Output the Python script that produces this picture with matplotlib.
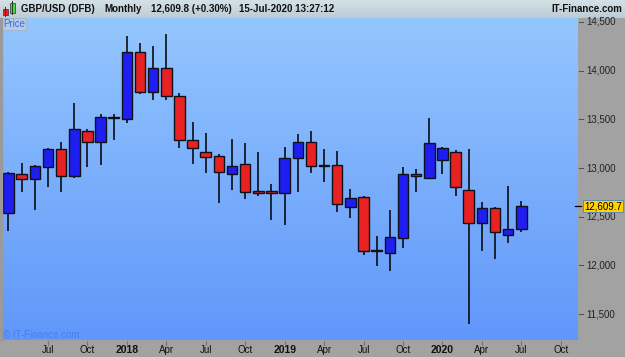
import numpy as np
import matplotlib
matplotlib.use("Agg")
import matplotlib.pyplot as plt
from matplotlib.patches import Rectangle
from matplotlib.transforms import blended_transform_factory

# ---------------- data ----------------
months = ["Apr17", "May17", "Jun17", "Jul17", "Aug17", "Sep17", "Oct17", "Nov17", "Dec17",
          "Jan18", "Feb18", "Mar18", "Apr18", "May18", "Jun18", "Jul18", "Aug18", "Sep18",
          "Oct18", "Nov18", "Dec18", "Jan19", "Feb19", "Mar19", "Apr19", "May19", "Jun19",
          "Jul19", "Aug19", "Sep19", "Oct19", "Nov19", "Dec19", "Jan20", "Feb20", "Mar20",
          "Apr20", "May20", "Jun20", "Jul20"]
opens = [12535, 12939, 12891, 13015, 13196, 12922, 13385, 13271, 13525,
         13501, 14189, 13778, 14024, 13743, 13285, 13165, 13121, 12936,
         13039, 12761, 12761, 12741, 13100, 13265, 13024, 13028, 12603,
         12700, 12148, 12131, 12285, 12936, 12898, 13086, 13165, 12772,
         12433, 12587, 12312, 12377]
highs = [12960, 13049, 13031, 13206, 13268, 13665, 13400, 13555, 13555,
         14356, 14287, 14254, 14377, 13774, 13473, 13357, 13144, 13298,
         13257, 13168, 12836, 13213, 13350, 13381, 13199, 13175, 12785,
         12710, 12305, 12569, 13011, 12987, 13514, 13219, 13185, 13196,
         12648, 12600, 12816, 12665]
lows = [12354, 12757, 12569, 12802, 12757, 12895, 13014, 13031, 13288,
        13460, 13757, 13699, 13699, 13203, 13042, 12952, 12644, 12775,
        12682, 12713, 12467, 12418, 12757, 12952, 12857, 12546, 12490,
        12107, 11997, 11946, 12182, 12757, 12885, 12942, 12713, 11395,
        12151, 12063, 12233, 12346]
closes = [12946, 12891, 13021, 13196, 12922, 13398, 13271, 13521, 13512,
          14189, 13778, 14024, 13743, 13288, 13203, 13117, 12956, 13018,
          12757, 12741, 12741, 13100, 13265, 13024, 13032, 12628, 12689,
          12148, 12156, 12289, 12936, 12915, 13254, 13206, 12809, 12433,
          12587, 12340, 12377, 12609.7]

xtick_pos = [3, 6, 9, 12, 15, 18, 21, 24, 27, 30, 33, 36, 39, 42]
xtick_labels = ["Jul", "Oct", "2018", "Apr", "Jul", "Oct", "2019", "Apr", "Jul", "Oct",
                "2020", "Apr", "Jul", "Oct"]
ytick_vals = [11500, 12000, 12500, 13000, 13500, 14000, 14500]
last_price = 12609.7

# ---------------- figure ----------------
W, H = 625, 357
fig = plt.figure(figsize=(W / 100, H / 100), dpi=100)
fig.patch.set_facecolor("#a2a2a2")
FONT = "Liberation Sans"

def fx(px):
    return px / W

def fy(py):
    return 1 - py / H

# header bar
hax = fig.add_axes([0, fy(18), 1, 18 / H])
hgrad = np.linspace(0, 1, 50)[:, None]
top_c = np.array([212, 224, 230]) / 255
bot_c = np.array([188, 204, 213]) / 255
himg = top_c[None, None, :] * (1 - hgrad[..., None]) + bot_c[None, None, :] * hgrad[..., None]
hax.imshow(np.repeat(himg, 2, axis=1), extent=[0, 1, 0, 1], aspect="auto")
hax.set_xlim(0, 1)
hax.set_ylim(0, 1)
hax.axis("off")

# main plot area
ax = fig.add_axes([fx(2), fy(340), fx(578) - fx(2), (340 - 18) / H])
g = np.linspace(0, 1, 256)[:, None]
ctop = np.array([148, 198, 254]) / 255
cbot = np.array([97, 151, 250]) / 255
img = ctop[None, None, :] * (1 - g[..., None]) + cbot[None, None, :] * g[..., None]
ax.imshow(np.repeat(img, 2, axis=1), extent=[0, 1, 0, 1], transform=ax.transAxes,
          aspect="auto", zorder=0)

x = np.arange(len(months))
o = np.array(opens, float)
c = np.array(closes, float)
hi = np.array(highs, float)
lo = np.array(lows, float)
up = c >= o
colors = np.where(up, "#1e1ef0", "#e82222")
ax.vlines(x, lo, hi, color="black", linewidth=1.1, zorder=2)
ax.bar(x, np.abs(c - o), bottom=np.minimum(o, c), width=0.8, color=colors,
       edgecolor="#101018", linewidth=1.0, zorder=3)

ax.set_xlim(-0.494, 43.31)
ax.set_ylim(11235, 14541)
ax.set_xticks([])
ax.set_yticks([])
for s in ax.spines.values():
    s.set_visible(False)

# left border
fig.patches.append(Rectangle((0, fy(340)), fx(2), (340 - 18) / H, transform=fig.transFigure,
                             color="#9a9a9a", zorder=0))

# Price label
ax.text(fx(3), fy(24), "Price", transform=fig.transFigure, fontsize=7, family=FONT,
        color="#3a6ee0", va="center", ha="left",
        bbox=dict(boxstyle="square,pad=0.15", fc="#b4cbe6", ec="#9fb4cc", lw=0.6))

# watermark
ax.text(fx(3), fy(335), "\u00a9 IT-Finance.com", transform=fig.transFigure, fontsize=7,
        family=FONT, color="#4580ec", va="center", ha="left")

# y axis labels on right panel
ytr = blended_transform_factory(fig.transFigure, ax.transData)
for v in ytick_vals:
    ax.plot([fx(579), fx(583)], [v, v], transform=ytr, color="#555555", lw=0.8,
            clip_on=False)
    ax.text(fx(586), v, f"{v:,}", transform=ytr, fontsize=7, family=FONT,
            color="#222222", va="center", ha="left", clip_on=False)

# last price tag
ax.plot([fx(575), fx(581)], [last_price, last_price], transform=ytr, color="black",
        lw=0.9, clip_on=False)
ax.text(fx(584), last_price, f"{last_price:,.1f}", transform=ytr, fontsize=7, family=FONT,
        color="black", va="center", ha="left", clip_on=False, zorder=5,
        bbox=dict(boxstyle="square,pad=0.12", fc="#ffd200", ec="#5080c0", lw=0.6))

# x axis labels on bottom band
xtr = blended_transform_factory(ax.transData, fig.transFigure)
for p, lab in zip(xtick_pos, xtick_labels):
    ax.plot([p, p], [fy(341), fy(345)], transform=xtr, color="#777777", lw=0.8,
            clip_on=False)
    bold = lab.isdigit()
    ax.text(p, fy(350), lab, transform=xtr, fontsize=7.5 if bold else 7, family=FONT,
            fontweight="bold" if bold else "normal", color="#111111",
            ha="center", va="center", clip_on=False)

# header icon
fig.patches.append(Rectangle((fx(3), fy(15)), fx(5), 6 / H, transform=fig.transFigure,
                             fc="#e82222", ec="#333333", lw=0.5))
fig.patches.append(Rectangle((fx(4.8), fy(17)), fx(1), 10 / H, transform=fig.transFigure,
                             fc="#333333", ec="none"))
fig.patches.append(Rectangle((fx(10), fy(13)), fx(5), 10 / H, transform=fig.transFigure,
                             fc="#40dd40", ec="#333333", lw=0.5))
fig.patches.append(Rectangle((fx(11.8), fy(15)), fx(1), 14 / H, transform=fig.transFigure,
                             fc="#333333", ec="none"))
for p in fig.patches[-4:]:
    p.set_zorder(10)

hdr_kw = dict(transform=fig.transFigure, fontsize=7, family=FONT, fontweight="bold",
              color="#111111", va="center")
fig.text(fx(21), fy(9), "GBP/USD (DFB)", ha="left", **hdr_kw)
fig.text(fx(104), fy(9), "Monthly", ha="left", **hdr_kw)
fig.text(fx(151), fy(9), "12,609.8 (+0.30%)", ha="left", **hdr_kw)
fig.text(fx(239), fy(9), "15-Jul-2020 13:27:12", ha="left", **hdr_kw)
fig.text(fx(622), fy(9), "IT-Finance.com", ha="right", **hdr_kw)

fig.savefig("out.png", dpi=100)
